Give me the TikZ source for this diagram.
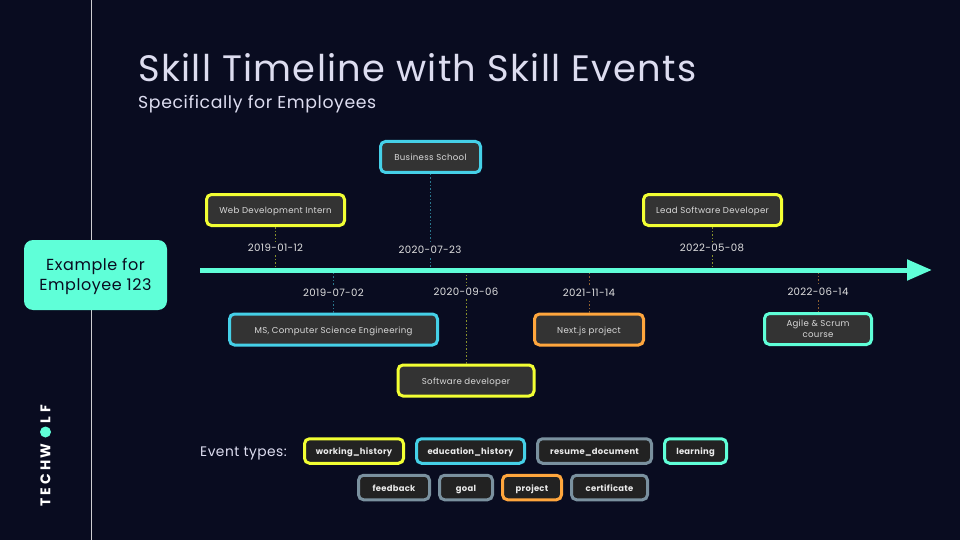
\documentclass[tikz,border=0pt]{standalone}
\usepackage{fontspec}
\setmainfont{Poppins}[LetterSpace=3.5]
\usetikzlibrary{arrows.meta, positioning}
\definecolor{night}{HTML}{090C20}
\definecolor{mint}{HTML}{5FFFD8}
\definecolor{workyellow}{HTML}{F2FF33}
\definecolor{edublue}{HTML}{45D0E8}
\definecolor{projorange}{HTML}{FFA63D}
\definecolor{slate}{HTML}{7A919F}
\definecolor{boxgrey}{HTML}{333333}
\definecolor{taggrey}{HTML}{222222}
\definecolor{pale}{HTML}{DDDDF0}
\tikzset{
  event/.style={
    rectangle,
    rounded corners=5pt,
    draw=#1,
    line width=3pt,
    fill=boxgrey,
    text=white!85!black,
    align=center,
    minimum height=31pt,
    inner sep=0pt,
    text height=9pt,
    text depth=2pt,
    font=\fontsize{8.6}{11.5}\selectfont
  },
  tag/.style={
    rectangle,
    rounded corners=5pt,
    draw=#1,
    line width=3pt,
    fill=taggrey,
    text=white!92!black,
    align=center,
    minimum height=24.5pt,
    inner sep=0pt,
    text height=9pt,
    text depth=2pt,
    font=\fontsize{8.4}{11}\selectfont\bfseries
  },
  datelabel/.style={
    fill=night,
    text=white!88!black,
    inner xsep=1pt,
    inner ysep=2.5pt,
    font=\fontsize{10.2}{12}\selectfont
  },
  stem/.style={dash pattern=on 1.5pt off 2pt, line width=0.8pt, draw=#1!55!night},
  axis/.style={-{Triangle[length=25pt, width=20pt]}, line width=5pt, draw=mint},
  logo/.style={rotate=90, text=white, inner sep=0pt, font=\fontsize{14}{14}\selectfont\bfseries}
}
\begin{document}
\begin{tikzpicture}[x=1pt, y=-1pt, node distance=10pt and 9pt]
\useasboundingbox[fill=night] (0,0) rectangle (960,540);
\coordinate (railtop) at (91,0);
\coordinate (railbot) at (91,540);
\draw[white!80!night, line width=0.8pt] (railtop) -- (railbot);

% title
\node[anchor=base west, text=pale, inner sep=0pt, font=\fontsize{36.8}{38}\selectfont] (title) at (138,81.5) {Skill Timeline with Skill Events};
\node[anchor=base west, text=pale, inner sep=0pt, font=\fontsize{17.3}{20}\selectfont] (subtitle) at (138,108.5) {Specifically for Employees};

% logo
\node[logo, anchor=west] (techw) at (45.5,506.5) {T\hspace{3pt}E\hspace{3pt}C\hspace{3pt}H\hspace{2.5pt}W};
\node[circle, fill=mint, minimum size=11pt, inner sep=0pt] (dot) at (45.5,432) {};
\node[logo, anchor=west] (lf) at (45.5,423.5) {L\hspace{4pt}F};

% employee and axis
\node[rectangle, rounded corners=9pt, fill=mint, text=night, align=center, minimum width=143pt, minimum height=70pt, inner sep=0pt, font=\fontsize{16}{20}\selectfont] (employee) at (95.5,275) {\rule{0pt}{16pt}Example for\\Employee 123};
\coordinate (axisstart) at (200,270);
\coordinate (axisend) at (932,270);

% events above
\node[event=edublue, minimum width=100pt] (business) at (430.5,157) {Business School};
\node[event=workyellow, minimum width=138pt] (webdev) at (275.5,210) {Web Development Intern};
\node[event=workyellow, minimum width=138pt] (lead) at (712.5,210) {Lead Software Developer};

% events below
\node[event=edublue, minimum width=208pt] (msc) at (333.5,329.5) {MS, Computer Science Engineering};
\node[event=workyellow, minimum width=136pt] (software) at (466,380.5) {Software developer};
\node[event=projorange, minimum width=109pt] (nextjs) at (589,329.5) {Next.js project};
\node[event=mint, minimum width=107pt, text height=, text depth=] (agile) at (818,329) {Agile \& Scrum\\course};

% stems
\draw[stem=workyellow] (webdev) -- (webdev |- axisstart);
\draw[stem=edublue] (business) -- (business |- axisstart);
\draw[stem=workyellow] (lead) -- (lead |- axisstart);
\draw[stem=edublue] (msc) -- (msc |- axisstart);
\draw[stem=workyellow] (software) -- (software |- axisstart);
\draw[stem=projorange] (nextjs) -- (nextjs |- axisstart);
\draw[stem=projorange] (agile) -- (agile |- axisstart);
\draw[axis] (axisstart) -- (axisend);

% dates
\node[datelabel] (d1) at (275.5,248) {2019-01-12};
\node[datelabel] (d2) at (430,250) {2020-07-23};
\node[datelabel] (d3) at (712,248) {2022-05-08};
\node[datelabel] (d4) at (333.5,293) {2019-07-02};
\node[datelabel] (d5) at (466,292) {2020-09-06};
\node[datelabel] (d6) at (589,293) {2021-11-14};
\node[datelabel] (d7) at (818,292) {2022-06-14};

% legend
\node[anchor=base west, text=pale, inner sep=0pt, font=\fontsize{13.8}{15}\selectfont] (legend) at (200,456) {Event types:};
\node[tag=workyellow, minimum width=99pt] (working) at (354,451) {working\_history};
\node[tag=edublue, minimum width=108pt] (education) at (470.5,451) {education\_history};
\node[tag=slate, minimum width=114pt] (resume) at (594.5,451) {resume\_document};
\node[tag=mint, minimum width=62pt] (learning) at (695.5,451) {learning};
\node[tag=slate, minimum width=71pt] (feedback) at (394,487.5) {feedback};
\node[tag=slate, minimum width=53pt, right=of feedback, xshift=-2pt] (goal) {goal};
\node[tag=projorange, minimum width=59pt] (project) at (532,487.5) {project};
\node[tag=slate, minimum width=76pt] (certificate) at (609.5,487.5) {certificate};
\end{tikzpicture}
\end{document}
